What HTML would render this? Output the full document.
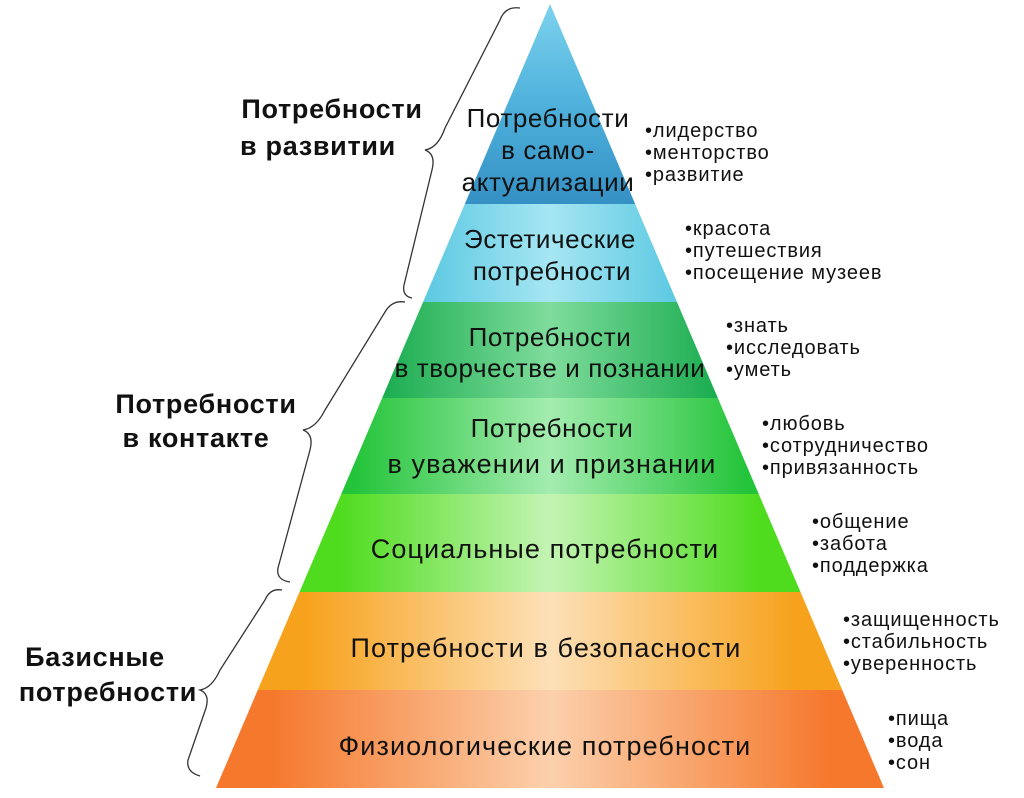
<!DOCTYPE html>
<html><head><meta charset="utf-8"><style>
html,body{margin:0;padding:0;background:#fff;}
svg{display:block;}
text{font-family:"Liberation Sans",sans-serif;fill:#111;}
.b{font-size:26px;text-anchor:middle;letter-spacing:0.6px;}
.w{font-size:27px;letter-spacing:1.1px;}
.l{font-size:20px;letter-spacing:0.9px;}
.h{font-size:27px;font-weight:bold;text-anchor:middle;letter-spacing:0.7px;}
</style></head><body>
<svg width="1024" height="798" viewBox="0 0 1024 798">
<defs>
<clipPath id="tri"><polygon points="550,4 884,788 216,788"/></clipPath>
<linearGradient id="g1" x1="0" y1="0" x2="0" y2="1"><stop offset="0" stop-color="#7fd3ee"/><stop offset="0.5" stop-color="#4fb2dc"/><stop offset="1" stop-color="#3590c4"/></linearGradient>
<linearGradient id="g2" x1="0" x2="1"><stop offset="0.2" stop-color="#2cb6d8"/><stop offset="0.5" stop-color="#a6e6f2"/><stop offset="0.8" stop-color="#2cb6d8"/></linearGradient>
<linearGradient id="g3" x1="0" x2="1"><stop offset="0.25" stop-color="#16aa4c"/><stop offset="0.5" stop-color="#7fdc9c"/><stop offset="0.75" stop-color="#16aa4c"/></linearGradient>
<linearGradient id="g4" x1="0" x2="1"><stop offset="0.22" stop-color="#24c43a"/><stop offset="0.5" stop-color="#a4ecb0"/><stop offset="0.78" stop-color="#24c43a"/></linearGradient>
<linearGradient id="g5" x1="0" x2="1"><stop offset="0.2" stop-color="#4fdc1e"/><stop offset="0.5" stop-color="#c4f4b4"/><stop offset="0.8" stop-color="#4fdc1e"/></linearGradient>
<linearGradient id="g6" x1="0" x2="1"><stop offset="0.15" stop-color="#f7a21c"/><stop offset="0.5" stop-color="#fde0b8"/><stop offset="0.85" stop-color="#f7a21c"/></linearGradient>
<linearGradient id="g7" x1="0" x2="1"><stop offset="0.1" stop-color="#f5782c"/><stop offset="0.5" stop-color="#fcd0ac"/><stop offset="0.9" stop-color="#f5782c"/></linearGradient>
</defs>
<g clip-path="url(#tri)">
<rect x="200" y="0" width="700" height="204" fill="url(#g1)"/>
<rect x="200" y="204" width="700" height="98" fill="url(#g2)"/>
<rect x="200" y="302" width="700" height="96" fill="url(#g3)"/>
<rect x="200" y="398" width="700" height="96" fill="url(#g4)"/>
<rect x="200" y="494" width="700" height="98" fill="url(#g5)"/>
<rect x="200" y="592" width="700" height="98" fill="url(#g6)"/>
<rect x="200" y="690" width="700" height="98" fill="url(#g7)"/>
</g>
<g fill="none" stroke="#333" stroke-width="1.3">
<path d="M520,8 Q505,6 500,20 L445,128 Q438,148 425,150 Q436,154 432,170 L404,285 Q402,296 412,298"/>
<path d="M405,302 Q392,300 385,312 L325,410 Q316,428 303,430 Q314,434 310,450 L278,568 Q276,580 290,582"/>
<path d="M282,590 Q270,588 265,600 L220,670 Q212,688 200,690 Q210,694 206,708 L188,760 Q186,772 200,776"/>
</g>
<text class="b" x="548" y="127">Потребности</text>
<text class="b" x="548" y="159">в само-</text>
<text class="b" x="548" y="191">актуализации</text>
<text class="b" x="550" y="248">Эстетические</text>
<text class="b" x="552" y="280">потребности</text>
<text class="b" x="550" y="346">Потребности</text>
<text class="b" x="550" y="377">в творчестве и познании</text>
<text class="b" x="552" y="437">Потребности</text>
<text class="b w" x="552" y="473">в уважении и признании</text>
<text class="b w" x="545" y="558">Социальные потребности</text>
<text class="b w" x="546" y="657">Потребности в безопасности</text>
<text class="b w" x="545" y="755">Физиологические потребности</text>
<text class="h" x="332" y="118">Потребности</text>
<text class="h" x="318" y="155">в развитии</text>
<text class="h" x="206" y="413">Потребности</text>
<text class="h" x="196" y="447">в контакте</text>
<text class="h" x="95" y="666">Базисные</text>
<text class="h" x="108" y="701">потребности</text>
<text class="l" x="645" y="137">•лидерство</text>
<text class="l" x="645" y="159">•менторство</text>
<text class="l" x="645" y="181">•развитие</text>
<text class="l" x="685" y="235">•красота</text>
<text class="l" x="685" y="257">•путешествия</text>
<text class="l" x="685" y="279">•посещение музеев</text>
<text class="l" x="726" y="332">•знать</text>
<text class="l" x="726" y="354">•исследовать</text>
<text class="l" x="726" y="376">•уметь</text>
<text class="l" x="762" y="430">•любовь</text>
<text class="l" x="762" y="452">•сотрудничество</text>
<text class="l" x="762" y="474">•привязанность</text>
<text class="l" x="812" y="528">•общение</text>
<text class="l" x="812" y="550">•забота</text>
<text class="l" x="812" y="572">•поддержка</text>
<text class="l" x="843" y="626">•защищенность</text>
<text class="l" x="843" y="648">•стабильность</text>
<text class="l" x="843" y="670">•уверенность</text>
<text class="l" x="888" y="725">•пища</text>
<text class="l" x="888" y="747">•вода</text>
<text class="l" x="888" y="769">•сон</text>
</svg>
</body></html>
